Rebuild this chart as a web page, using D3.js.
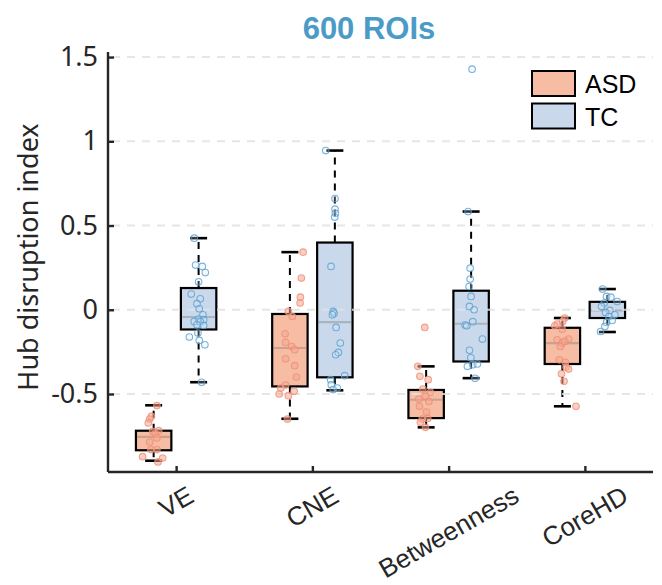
<!DOCTYPE html>
<html>
<head>
<meta charset="utf-8">
<script src="https://cdn.jsdelivr.net/npm/d3@7"></script>
<style>
  body { margin: 0; background: #fff; }
  svg { display: block; }
</style>
</head>
<body>
<svg id="chart" width="662" height="585"></svg>
<script>
const WIDTH = 662;
const HEIGHT = 585;

const categories = ["VE", "CNE", "Betweenness", "CoreHD"];
const groups = ["ASD", "TC"];
const yTicks = [-0.5, 0, 0.5, 1, 1.5];

// box stats per category: [lower whisker, q1, median, q3, upper whisker]
const asdBoxes = [
    [-0.896, -0.834, -0.755, -0.718, -0.567],
    [-0.647, -0.455, -0.227, -0.025, 0.342],
    [-0.698, -0.643, -0.534, -0.476, -0.336],
    [-0.573, -0.322, -0.198, -0.107, -0.049]
];
const tcBoxes = [
    [-0.430, -0.117, -0.043, 0.129, 0.425],
    [-0.478, -0.401, -0.073, 0.399, 0.945],
    [-0.406, -0.307, -0.083, 0.113, 0.583],
    [-0.132, -0.049, -0.004, 0.047, 0.123]
];

// subject values per category: [value, jitter along x (category units)]
const asdPoints = [
    [[-0.569, 0.024], [-0.633, -0.017], [-0.649, -0.029], [-0.672, -0.039], [-0.722, -0.007],
     [-0.718, 0.037], [-0.735, 0.012], [-0.761, 0.024], [-0.785, -0.029], [-0.830, -0.020],
     [-0.830, 0.024], [-0.872, -0.081], [-0.880, 0.066], [-0.903, 0.032]],
    [[0.342, 0.097], [0.188, 0.084], [0.075, 0.077], [0.040, 0.075], [-0.010, -0.011],
     [-0.040, 0.018], [-0.143, -0.035], [-0.194, -0.031], [-0.218, 0.013], [-0.237, 0.035],
     [-0.291, -0.031], [-0.332, 0.035], [-0.399, 0.048], [-0.447, -0.031], [-0.465, -0.067],
     [-0.484, 0.031], [-0.500, -0.079], [-0.510, -0.011], [-0.649, -0.018]],
    [[-0.105, -0.010], [-0.336, -0.061], [-0.395, -0.046], [-0.415, 0.015], [-0.471, -0.024],
     [-0.490, 0.032], [-0.514, -0.005], [-0.530, -0.054], [-0.544, 0.020], [-0.573, -0.049],
     [-0.607, 0.002], [-0.649, -0.029], [-0.645, 0.012], [-0.668, -0.042], [-0.698, -0.005]],
    [[-0.049, 0.017], [-0.069, 0.002], [-0.085, -0.039], [-0.095, -0.056], [-0.115, -0.002],
     [-0.178, -0.039], [-0.174, 0.046], [-0.198, -0.002], [-0.218, -0.015], [-0.188, 0.017],
     [-0.297, -0.022], [-0.312, 0.022], [-0.340, 0.027], [-0.352, 0.046], [-0.380, -0.007],
     [-0.425, 0.012], [-0.573, 0.100]]
];
const tcPoints = [
    [[0.425, -0.032], [0.265, -0.022], [0.257, 0.027], [0.221, 0.049], [0.166, 0.000],
     [0.093, -0.054], [0.065, 0.012], [0.036, -0.012], [0.006, 0.005], [-0.030, 0.032],
     [-0.055, 0.000], [-0.059, 0.037], [-0.069, -0.032], [-0.071, 0.012], [-0.089, -0.012],
     [-0.093, 0.037], [-0.138, -0.005], [-0.162, -0.068], [-0.182, 0.005], [-0.208, 0.046],
     [-0.431, 0.022]],
    [[0.945, -0.067], [0.660, 0.001], [0.597, 0.001], [0.573, 0.004], [0.550, -0.001],
     [0.257, -0.028], [-0.010, -0.013], [-0.020, -0.006], [-0.030, -0.018], [-0.105, 0.009],
     [-0.198, 0.040], [-0.253, 0.026], [-0.267, 0.006], [-0.391, 0.072], [-0.415, -0.031],
     [-0.445, -0.026], [-0.465, 0.018], [-0.474, -0.013]],
    [[1.428, 0.007], [0.583, -0.022], [0.247, -0.007], [0.182, -0.007], [0.138, -0.015],
     [0.079, 0.000], [0.020, -0.012], [0.000, 0.022], [-0.071, 0.012], [-0.091, -0.044],
     [-0.095, -0.032], [-0.174, 0.083], [-0.241, -0.012], [-0.285, -0.002], [-0.326, 0.012],
     [-0.336, -0.027], [-0.322, 0.046], [-0.407, 0.029]],
    [[0.123, -0.035], [0.079, -0.006], [0.075, 0.026], [0.049, 0.072], [0.040, -0.023],
     [0.020, -0.043], [-0.004, 0.018], [-0.016, -0.013], [-0.030, 0.055], [-0.040, 0.011],
     [-0.063, 0.035], [-0.075, -0.006], [-0.099, -0.018], [-0.129, -0.050]]
];

const boxFill = { ASD: "#f7bda4", TC: "#c9d9eb" };
const dotStroke = { ASD: "#ef8f78", TC: "#5aa0d2" };
const dotFill = { ASD: "#f4a890", TC: "#dce8f4" };
const groupOffset = { ASD: -0.165, TC: 0.165 };
const BOX_W = 0.26;
const CAP_W = 17;
const AXIS_COLOR = "#262626";

const margin = { left: 108, right: 9, top: 52, bottom: 113 };

const svg = d3.select("#chart");

const x = d3.scaleLinear()
    .domain([0.5, categories.length + 0.5])
    .range([margin.left, WIDTH - margin.right]);

const y = d3.scaleLinear()
    .domain([-0.963, 1.53])
    .range([HEIGHT - margin.bottom, margin.top]);

const plot = svg.append("g");

// boxes, whiskers, medians
const series = [
    { group: "ASD", boxes: asdBoxes, points: asdPoints },
    { group: "TC", boxes: tcBoxes, points: tcPoints }
];

series.forEach(s => {
    s.boxes.forEach((b, i) => {
        const cx = x(i + 1 + groupOffset[s.group]);
        const half = (x(BOX_W) - x(0)) / 2;
        const [lo, q1, med, q3, hi] = b;
        const g = plot.append("g");

        // dashed whiskers
        g.append("line").attr("x1", cx).attr("x2", cx).attr("y1", y(q3)).attr("y2", y(hi))
            .attr("stroke", "#000").attr("stroke-width", 2).attr("stroke-dasharray", "7,6");
        g.append("line").attr("x1", cx).attr("x2", cx).attr("y1", y(q1)).attr("y2", y(lo))
            .attr("stroke", "#000").attr("stroke-width", 2).attr("stroke-dasharray", "7,6");
        // caps
        [lo, hi].forEach(v => {
            g.append("line").attr("x1", cx - CAP_W / 2).attr("x2", cx + CAP_W / 2)
                .attr("y1", y(v)).attr("y2", y(v))
                .attr("stroke", "#000").attr("stroke-width", 2.6);
        });
        g.append("rect")
            .attr("x", cx - half).attr("width", half * 2)
            .attr("y", y(q3)).attr("height", y(q1) - y(q3))
            .attr("fill", boxFill[s.group])
            .attr("stroke", "#000").attr("stroke-width", 2.2);
        g.append("line").attr("x1", cx - half + 1).attr("x2", cx + half - 1)
            .attr("y1", y(med)).attr("y2", y(med))
            .attr("stroke", "#6f6f6f").attr("stroke-opacity", 0.35).attr("stroke-width", 2.2);
    });
});

// gridlines (drawn over the boxes, light)
plot.append("g").selectAll("line")
    .data(yTicks)
    .join("line")
    .attr("x1", margin.left + 4).attr("x2", WIDTH - margin.right)
    .attr("y1", d => y(d)).attr("y2", d => y(d))
    .attr("stroke", "#e2e2e2").attr("stroke-opacity", 0.85)
    .attr("stroke-width", 2).attr("stroke-dasharray", "8,7");

// subject dots
series.forEach(s => {
    s.points.forEach((pts, i) => {
        const base = i + 1 + groupOffset[s.group];
        plot.append("g").selectAll("circle")
            .data(pts)
            .join("circle")
            .attr("cx", d => x(base + d[1]))
            .attr("cy", d => y(d[0]))
            .attr("r", 3.3)
            .attr("fill", dotFill[s.group])
            .attr("fill-opacity", s.group === "ASD" ? 0.55 : 0.25)
            .attr("stroke", dotStroke[s.group])
            .attr("stroke-opacity", 0.8)
            .attr("stroke-width", 1.1);
    });
});

// axes
const yAxis = d3.axisLeft(y).tickValues(yTicks).tickSize(-6).tickPadding(10)
    .tickFormat(d => d3.format("")(d).replace("−", "-"));
const yAxisG = svg.append("g").attr("transform", `translate(${margin.left},0)`).call(yAxis);
yAxisG.select(".domain").attr("d", `M0,${y(-0.963)}V${y(1.53)}`)
    .attr("stroke", AXIS_COLOR).attr("stroke-width", 2.4);
yAxisG.selectAll(".tick line").attr("stroke", AXIS_COLOR).attr("stroke-width", 2.4);
yAxisG.selectAll(".tick text")
    .attr("font-family", "'Noto Sans', sans-serif").attr("font-size", 27)
    .attr("fill", AXIS_COLOR);

const xAxis = d3.axisBottom(x).tickValues(d3.range(1, categories.length + 1))
    .tickSize(-6).tickFormat(() => "");
const xAxisG = svg.append("g").attr("transform", `translate(0,${y(-0.963)})`).call(xAxis);
xAxisG.select(".domain").attr("d", `M${margin.left},0H${WIDTH - margin.right}`)
    .attr("stroke", AXIS_COLOR).attr("stroke-width", 2.4);
xAxisG.selectAll(".tick line").attr("stroke", AXIS_COLOR).attr("stroke-width", 2.4);

// rotated category labels
const xLabels = svg.append("g").selectAll("text")
    .data(categories)
    .join("text")
    .attr("font-family", "'Liberation Sans', Arial, sans-serif")
    .attr("font-size", 26)
    .attr("fill", AXIS_COLOR)
    .attr("text-anchor", "middle")
    .attr("dominant-baseline", "central")
    .text(d => d);
xLabels.each(function (d, i) {
    const len = this.getComputedTextLength();
    const cx = x(i + 1);
    const cy = 493 + len / 4;
    d3.select(this).attr("transform", `translate(${cx},${cy}) rotate(-30)`);
});

// y label
svg.append("text")
    .attr("transform", `translate(38,${(y(-0.963) + y(1.53)) / 2 - 5}) rotate(-90)`)
    .attr("text-anchor", "middle")
    .attr("font-family", "'Noto Sans', sans-serif")
    .attr("font-size", 27)
    .attr("fill", AXIS_COLOR)
    .text("Hub disruption index");

// title
svg.append("text")
    .attr("x", 369)
    .attr("y", 39)
    .attr("text-anchor", "middle")
    .attr("font-family", "'Liberation Sans', Arial, sans-serif")
    .attr("font-weight", "bold")
    .attr("font-size", 31)
    .attr("fill", "#4a9bc8")
    .text("600 ROIs");

// legend
const legend = svg.append("g").attr("transform", "translate(532,71)");
groups.forEach((gname, i) => {
    const row = legend.append("g").attr("transform", `translate(0,${i * 32.5})`);
    row.append("rect").attr("width", 43).attr("height", 25)
        .attr("fill", boxFill[gname]).attr("stroke", "#000").attr("stroke-width", 2);
    row.append("text").attr("x", 53).attr("y", 22)
        .attr("font-family", "'Liberation Sans', Arial, sans-serif")
        .attr("font-size", 25).attr("fill", "#000")
        .text(gname);
});
</script>
</body>
</html>
